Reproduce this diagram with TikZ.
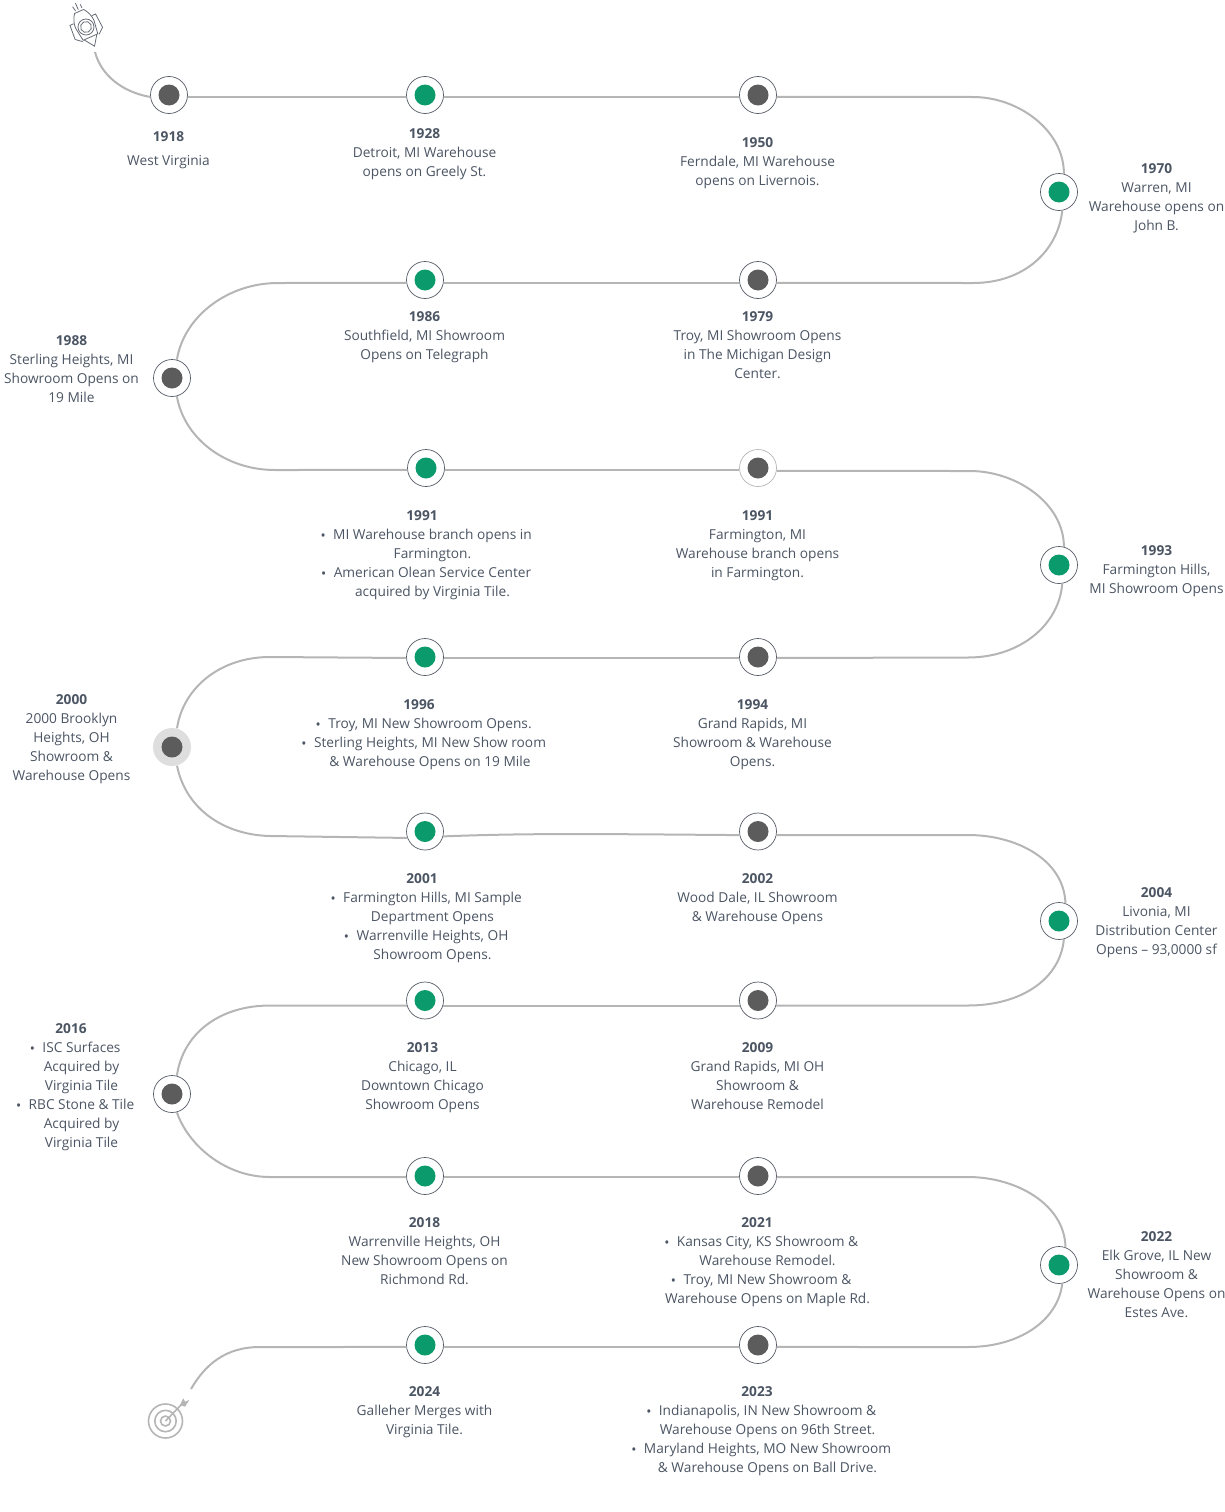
\documentclass[tikz,border=0pt]{standalone}
\usepackage{fontspec}
\setmainfont{Open Sans}
\usepackage{xcolor}
\usepackage{graphicx}
\definecolor{railgray}{HTML}{B5B5B5}
\definecolor{ringgray}{HTML}{555B66}
\definecolor{dotgray}{HTML}{5C5C5C}
\definecolor{dotgreen}{HTML}{0A9A6B}
\definecolor{txtgray}{HTML}{4B5563}
\newcommand{\yr}[1]{{\bfseries #1}}
\newcommand{\bul}{\leavevmode\llap{\raisebox{-1pt}{•}\hspace{7.5pt}}}
\tikzset{
  rail/.style={railgray, line width=2pt},
  stopring/.style={circle, draw=ringgray, line width=0.7pt, fill=white, minimum size=37pt, inner sep=0pt},
  greendot/.style={circle, fill=dotgreen, minimum size=21pt, inner sep=0pt},
  graydot/.style={circle, fill=dotgray, minimum size=21pt, inner sep=0pt},
  blurb/.style={text=txtgray, font=\fontsize{13.7}{19}\selectfont, align=center, inner sep=0pt},
}
\begin{document}
\begin{tikzpicture}[x=1pt, y=-1pt]
  \useasboundingbox (0,0) rectangle (1225,1512);
  % stops
  \node[stopring] (s1918) at (169,95) {};
  \node[stopring] (s1928) at (425,95) {};
  \node[stopring] (s1950) at (758,95) {};
  \node[stopring] (s1970) at (1059,192) {};
  \node[stopring] (s1979) at (758,280) {};
  \node[stopring] (s1986) at (425,280) {};
  \node[stopring] (s1988) at (172,378) {};
  \node[stopring] (s1991a) at (426,468) {};
  \node[stopring, draw=railgray] (s1991b) at (758,468) {};
  \node[stopring] (s1993) at (1059,565) {};
  \node[stopring] (s1994) at (758,657) {};
  \node[stopring] (s1996) at (425,657) {};
  \node[stopring, draw=none, fill=black!13, minimum size=38pt] (s2000) at (172,747) {};
  \node[stopring] (s2001) at (425,831.5) {};
  \node[stopring] (s2002) at (758,831.5) {};
  \node[stopring] (s2004) at (1059,921) {};
  \node[stopring] (s2009) at (758,1000.5) {};
  \node[stopring] (s2013) at (425,1000.5) {};
  \node[stopring] (s2016) at (172,1094) {};
  \node[stopring] (s2018) at (425,1176) {};
  \node[stopring] (s2021) at (758,1176) {};
  \node[stopring] (s2022) at (1059,1265) {};
  \node[stopring] (s2023) at (758,1345) {};
  \node[stopring] (s2024) at (425,1345) {};
  % dots
  \node[graydot] (d1918) at (s1918) {};
  \node[greendot] (d1928) at (s1928) {};
  \node[graydot] (d1950) at (s1950) {};
  \node[greendot] (d1970) at (s1970) {};
  \node[graydot] (d1979) at (s1979) {};
  \node[greendot] (d1986) at (s1986) {};
  \node[graydot] (d1988) at (s1988) {};
  \node[greendot] (d1991a) at (s1991a) {};
  \node[graydot] (d1991b) at (s1991b) {};
  \node[greendot] (d1993) at (s1993) {};
  \node[graydot] (d1994) at (s1994) {};
  \node[greendot] (d1996) at (s1996) {};
  \node[graydot] (d2000) at (s2000) {};
  \node[greendot] (d2001) at (s2001) {};
  \node[graydot] (d2002) at (s2002) {};
  \node[greendot] (d2004) at (s2004) {};
  \node[graydot] (d2009) at (s2009) {};
  \node[greendot] (d2013) at (s2013) {};
  \node[graydot] (d2016) at (s2016) {};
  \node[greendot] (d2018) at (s2018) {};
  \node[graydot] (d2021) at (s2021) {};
  \node[greendot] (d2022) at (s2022) {};
  \node[graydot] (d2023) at (s2023) {};
  \node[greendot] (d2024) at (s2024) {};
  % rail
  \coordinate (start) at (95,52);
  \coordinate (finish) at (191,1389);
  \draw[rail] (start) .. controls (101,75) and (122,92) .. (s1918.186);
  \draw[rail] (s1918.-6) -- (s1928.186);
  \draw[rail] (s1928.-6) -- (s1950.186);
  \draw[rail] (s1950.-6) -- (973,97) .. controls (1018,97) and (1064,130) .. (s1970.75);
  \draw[rail] (s1970.-80) .. controls (1058,250) and (1025,283) .. (973,283) -- (s1979.-9);
  \draw[rail] (s1979.189) -- (s1986.-9);
  \draw[rail] (s1986.189) -- (278,283) .. controls (228,283) and (184,316) .. (s1988.75);
  \draw[rail] (s1988.-75) .. controls (184,438) and (225,470) .. (275,470) -- (s1991a.186);
  \draw[rail] (s1991a.-6) -- (s1991b.186);
  \draw[rail] (s1991b.-9) -- (970,471) .. controls (1017,471) and (1064,504) .. (s1993.75);
  \draw[rail] (s1993.-80) .. controls (1059,625) and (1020,657.5) .. (968,657.5) -- (s1994.-3);
  \draw[rail] (s1994.183) -- (s1996.-3);
  \draw[rail] (s1996.183) -- (270,657) .. controls (220,657) and (183,688) .. (s2000.75);
  \draw[rail] (s2000.-75) .. controls (186,810) and (225,835) .. (270,836) -- (s2001.200);
  \draw[rail] (s2001.-15) .. controls (530,833) and (600,834) .. (s2002.191);
  \draw[rail] (s2002.-11) -- (968,835) .. controls (1017,835) and (1064,860) .. (s2004.70);
  \draw[rail] (s2004.-75) .. controls (1060,980) and (1020,1005.5) .. (968,1005.5) -- (s2009.-16);
  \draw[rail] (s2009.196) -- (s2013.-16);
  \draw[rail] (s2013.196) -- (270,1005.5) .. controls (220,1005.5) and (183,1033) .. (s2016.75);
  \draw[rail] (s2016.-75) .. controls (188,1145) and (225,1177) .. (270,1177) -- (s2018.183);
  \draw[rail] (s2018.-3) -- (s2021.183);
  \draw[rail] (s2021.-3) -- (968,1177) .. controls (1017,1177) and (1065,1205) .. (s2022.70);
  \draw[rail] (s2022.-80) .. controls (1058,1320) and (1020,1347) .. (968,1347) -- (s2023.-6);
  \draw[rail] (s2023.186) -- (s2024.-6);
  \draw[rail] (s2024.186) -- (260,1347) .. controls (225,1347) and (205,1365) .. (finish);
  % labels
  \node[blurb] (t1918) at (168.5,150) {\yr{1918}\\[5pt]West Virginia};
  \node[blurb] (t1928) at (424.5,154) {\yr{1928}\\Detroit, MI Warehouse\\opens on Greely St.};
  \node[blurb] (t1950) at (757.5,163) {\yr{1950}\\Ferndale, MI Warehouse\\opens on Livernois.};
  \node[blurb] (t1970) at (1156.5,198) {\yr{1970}\\Warren, MI\\Warehouse opens on\\John B.};
  \node[blurb] (t1979) at (757.5,345) {\yr{1979}\\Troy, MI Showroom Opens\\in The Michigan Design\\Center.};
  \node[blurb] (t1986) at (424.5,337) {\yr{1986}\\Southfield, MI Showroom\\Opens on Telegraph};
  \node[blurb] (t1988) at (71.5,369) {\yr{1988}\\Sterling Heights, MI\\Showroom Opens on\\19 Mile};
  \node[blurb] (t1991a) at (432.5,555) {\hspace*{-21pt}\yr{1991}\\\bul MI Warehouse branch opens in\\Farmington.\\\bul American Olean Service Center\\acquired by Virginia Tile.};
  \node[blurb] (t1991b) at (757.5,546) {\yr{1991}\\Farmington, MI\\Warehouse branch opens\\in Farmington.};
  \node[blurb] (t1993) at (1156.5,571) {\yr{1993}\\Farmington Hills,\\MI Showroom Opens};
  \node[blurb] (t1994) at (752.5,735) {\yr{1994}\\Grand Rapids, MI\\Showroom \& Warehouse\\Opens.};
  \node[blurb] (t1996) at (430,735) {\hspace*{-22pt}\yr{1996}\\\bul Troy, MI New Showroom Opens.\\\bul Sterling Heights, MI New Show room\\\& Warehouse Opens on 19 Mile};
  \node[blurb] (t2000) at (71.5,739) {\yr{2000}\\2000 Brooklyn\\Heights, OH\\Showroom \&\\Warehouse Opens};
  \node[blurb] (t2001) at (432.5,918) {\hspace*{-21pt}\yr{2001}\\\bul Farmington Hills, MI Sample\\Department Opens\\\bul Warrenville Heights, OH\\Showroom Opens.};
  \node[blurb] (t2002) at (757.5,899) {\yr{2002}\\Wood Dale, IL Showroom\\\& Warehouse Opens};
  \node[blurb] (t2004) at (1156.5,923) {\yr{2004}\\Livonia, MI\\Distribution Center\\Opens – 93,0000 sf};
  \node[blurb] (t2009) at (757.5,1076) {\yr{2009}\\Grand Rapids, MI OH\\Showroom \&\\Warehouse Remodel};
  \node[blurb] (t2013) at (422.5,1078) {\yr{2013}\\Chicago, IL\\Downtown Chicago\\Showroom Opens};
  \node[blurb] (t2016) at (81.5,1087) {\hspace*{-21pt}\yr{2016}\\\bul ISC Surfaces\\Acquired by\\Virginia Tile\\\bul RBC Stone \& Tile\\Acquired by\\Virginia Tile};
  \node[blurb] (t2018) at (424.5,1251) {\yr{2018}\\Warrenville Heights, OH\\New Showroom Opens on\\Richmond Rd.};
  \node[blurb] (t2021) at (767.5,1262) {\hspace*{-21pt}\yr{2021}\\\bul Kansas City, KS Showroom \&\\Warehouse Remodel.\\\bul Troy, MI New Showroom \&\\Warehouse Opens on Maple Rd.};
  \node[blurb] (t2022) at (1156.5,1275) {\yr{2022}\\Elk Grove, IL New\\Showroom \&\\Warehouse Opens on\\Estes Ave.};
  \node[blurb] (t2023) at (767.5,1431) {\hspace*{-21pt}\yr{2023}\\\bul Indianapolis, IN New Showroom \&\\Warehouse Opens on 96th Street.\\\bul Maryland Heights, MO New Showroom\\\& Warehouse Opens on Ball Drive.};
  \node[blurb] (t2024) at (424.5,1412) {\yr{2024}\\Galleher Merges with\\Virginia Tile.};
  % rocket
  \begin{scope}[shift={(86,27)}, rotate=24, draw=ringgray!90, line width=0.8pt]
    \draw (-5,-17) -- (5,-17) .. controls (8,-13) and (10,-8) .. (10,-3) -- (8,11) -- (-8,11) -- (-10,-3) .. controls (-10,-8) and (-8,-13) .. (-5,-17) -- cycle;
    \draw (0,0) circle (8);
    \draw (0,0) circle (5.5);
    \draw (-10,-8) -- (-14,-8) -- (-15,7) -- (-9,12);
    \draw (10,-8) -- (14,-8) -- (15,7) -- (9,12);
    \draw (-7,11) -- (0,21) -- (7,11);
    \draw (-3,-19) -- (-4,-24);
    \draw (0,-19) -- (0,-26);
    \draw (4,-19) -- (4,-23);
  \end{scope}
  % target
  \begin{scope}[draw=railgray, line width=1.6pt]
    \draw (165.5,1421) circle (17);
    \draw (165.5,1421) circle (10.7);
    \draw (165.5,1421) circle (5);
    \draw (165.5,1421) -- (182,1404);
    \fill[railgray] (180,1405) -- (183.3,1398.3) -- (185,1401.7) -- (189.3,1400) -- (185,1406.7) -- cycle;
  \end{scope}
\end{tikzpicture}
\end{document}
